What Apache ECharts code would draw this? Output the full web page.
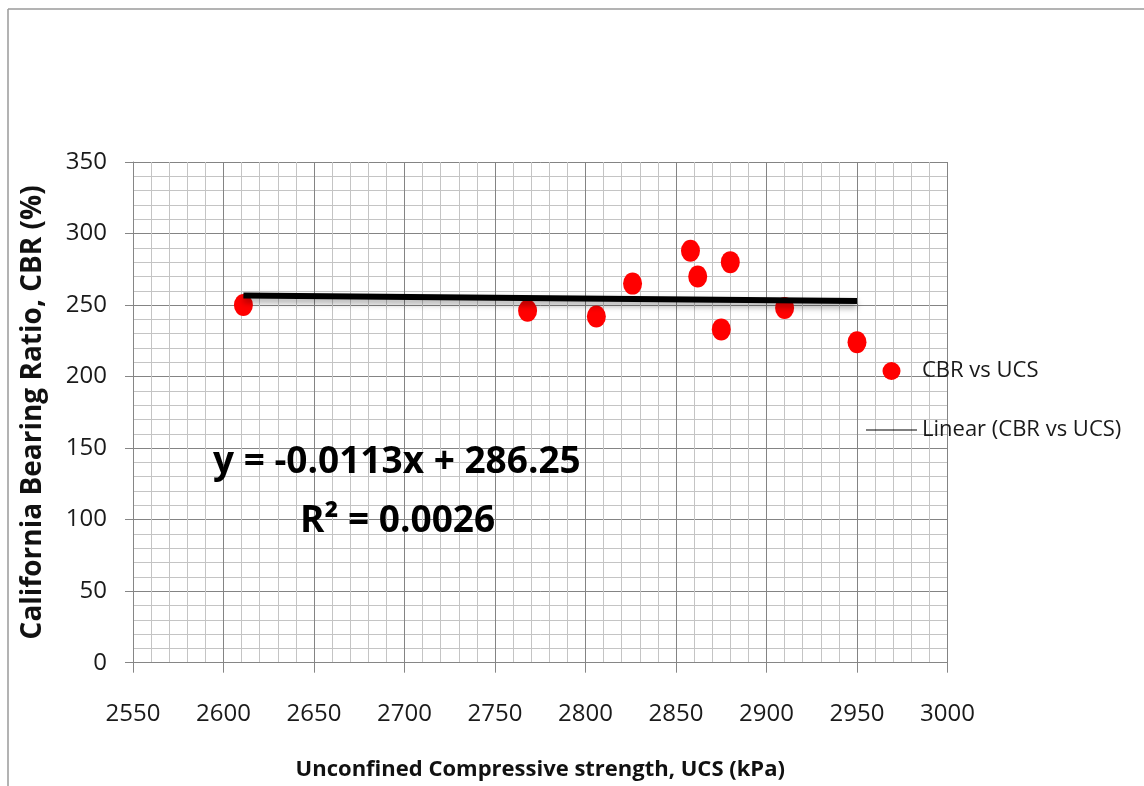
<!DOCTYPE html>
<html>
<head>
<meta charset="utf-8">
<title>CBR vs UCS</title>
<script src="https://cdn.jsdelivr.net/npm/echarts@6/dist/echarts.min.js"></script>
<style>
  html, body { margin: 0; padding: 0; background: #fff; }
  #main { width: 1144px; height: 786px; }
</style>
</head>
<body>
<div id="main"></div>
<script>
// data
var ucs = [2611, 2768, 2806, 2826, 2858, 2862, 2880, 2875, 2910, 2950];
var cbr = [250, 246, 242, 265, 288, 270, 280, 233, 248, 224];
var xTicks = [2550, 3000, 50];
var yTicks = [0, 350, 50];
// trendline as printed on the chart
var slope = -0.0113;
var intercept = 286.25;

var font = '"Open Sans", "Noto Sans", sans-serif';
var points = ucs.map(function (x, i) { return [x, cbr[i]]; });
var xLo = Math.min.apply(null, ucs), xHi = Math.max.apply(null, ucs);
var trend = [[xLo, slope * xLo + intercept], [xHi, slope * xHi + intercept]];

var myChart = echarts.init(document.getElementById('main'));
myChart.setOption({
    backgroundColor: '#fff',
    animation: false,
    textStyle: { fontFamily: font },
    grid: { left: 133, right: 196.5, top: 162, bottom: 123.3, containLabel: false },
    legend: {
        orient: 'vertical',
        left: 861,
        top: 355,
        itemWidth: 51,
        itemHeight: 18,
        itemGap: 37,
        textStyle: { fontSize: 22, color: '#1a1a1a', lineHeight: 22, fontFamily: font },
        data: [
            { name: 'CBR vs UCS', icon: 'circle' },
            { name: 'Linear (CBR vs UCS)', icon: 'path://M0,0H51V1H0Z',
              itemStyle: { color: '#000' } }
        ]
    },
    xAxis: {
        type: 'value',
        min: xTicks[0], max: xTicks[1], interval: xTicks[2],
        name: 'Unconfined Compressive strength, UCS (kPa)',
        nameLocation: 'middle',
        nameGap: 96,
        nameTextStyle: { fontSize: 22, fontWeight: 'bold', color: '#111', fontFamily: font },
        axisLine: { show: true, onZero: false, lineStyle: { color: '#868686' } },
        axisTick: { show: true, length: 10, lineStyle: { color: '#868686' } },
        axisLabel: { fontSize: 24, color: '#1a1a1a', margin: 39,
            formatter: function (v) { return String(v); } },
        splitLine: { show: true, lineStyle: { color: '#848484', width: 1 } },
        minorTick: { show: false, splitNumber: 5 },
        minorSplitLine: { show: true, lineStyle: { color: '#c4c4c4', width: 1 } }
    },
    yAxis: {
        type: 'value',
        min: yTicks[0], max: yTicks[1], interval: yTicks[2],
        name: 'California Bearing Ratio, CBR (%)',
        nameLocation: 'middle',
        nameGap: 86,
        nameTextStyle: { fontSize: 28, fontWeight: 'bold', color: '#111', fontFamily: font },
        axisLine: { show: true, lineStyle: { color: '#868686' } },
        axisTick: { show: true, length: 8, lineStyle: { color: '#868686' } },
        axisLabel: { fontSize: 24, color: '#1a1a1a', margin: 26 },
        splitLine: { show: true, lineStyle: { color: '#848484', width: 1 } },
        minorTick: { show: false, splitNumber: 5 },
        minorSplitLine: { show: true, lineStyle: { color: '#c4c4c4', width: 1 } }
    },
    series: [
        {
            name: 'CBR vs UCS',
            type: 'scatter',
            symbol: 'circle',
            symbolSize: [19, 22],
            itemStyle: { color: '#ff0000', opacity: 1 },
            data: points
        },
        {
            name: 'Linear (CBR vs UCS)',
            type: 'line',
            symbol: 'none',
            color: '#000',
            lineStyle: { color: '#000', width: 6,
                shadowColor: 'rgba(0,0,0,0.35)', shadowBlur: 6, shadowOffsetY: 4 },
            data: trend
        }
    ],
    graphic: [
        // outer frame (top and left only)
        { type: 'line', shape: { x1: 8, y1: 9, x2: 1144, y2: 9 }, style: { stroke: '#9a9a9a', lineWidth: 1.5 } },
        { type: 'line', shape: { x1: 8, y1: 9, x2: 8, y2: 786 }, style: { stroke: '#9a9a9a', lineWidth: 1.5 } },
        { type: 'text', left: 213, top: 444, z: 100,
          style: { text: 'y = -0.0113x + 286.25', font: 'bold 37px ' + font, fill: '#000' } },
        { type: 'text', left: 300, top: 503, z: 100,
          style: { text: 'R² = 0.0026', font: 'bold 37px ' + font, fill: '#000' } }
    ]
});
</script>
</body>
</html>
